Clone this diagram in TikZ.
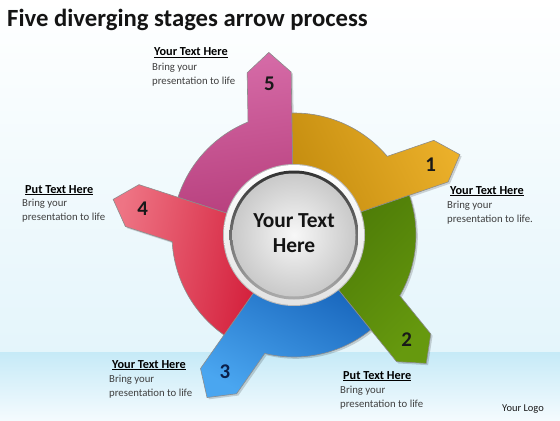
\documentclass[tikz,border=0pt]{standalone}
\usepackage{fontspec}
\setmainfont{Carlito}
\definecolor{pinkA}{HTML}{D66CA8}
\definecolor{pinkB}{HTML}{B8407E}
\definecolor{orA}{HTML}{EBB02A}
\definecolor{orB}{HTML}{C68E10}
\definecolor{grA}{HTML}{66990E}
\definecolor{grB}{HTML}{4E7C08}
\definecolor{blA}{HTML}{4AA6F0}
\definecolor{blB}{HTML}{1A68BE}
\definecolor{rdA}{HTML}{EE7484}
\definecolor{rdB}{HTML}{D4203C}
\definecolor{bgA}{HTML}{E4F5FB}
\definecolor{bandA}{HTML}{C6EAF7}
\definecolor{bandB}{HTML}{F4FBFE}
\definecolor{navy}{HTML}{0B1F4A}
\begin{document}
\begin{tikzpicture}[x=1bp,y=1bp,
  segshape/.style 2 args={insert path={
    (#1:60) -- (#1:163)
    -- ({183*cos(#1)-22*sin(#1)},{183*sin(#1)+22*cos(#1)})
    -- ({163*cos(#1)-44*sin(#1)},{163*sin(#1)+44*cos(#1)})
    -- (#1+21.14:122) arc[start angle=#1+21.14, end angle=#2, radius=122]
    -- (#2:60) arc[start angle=#2, end angle=#1, radius=60] -- cycle}},
  seg/.style={draw=black!45, line width=0.6bp},
  head/.style={anchor=base west, inner sep=0pt, font=\fontsize{12.3}{14}\selectfont\bfseries},
  body/.style={anchor=base west, inner sep=0pt, font=\fontsize{10.8}{13}\selectfont, text=black!75},
  num/.style={inner sep=0pt, font=\fontsize{21}{21}\selectfont\bfseries, text=black!90}]
\useasboundingbox (0,0) rectangle (560,420);
% background
\fill[top color=white, bottom color=bgA] (0,68) rectangle (560,420);
\fill[top color=bandA, bottom color=bandB] (0,0) rectangle (560,68);
% title
\node[anchor=base west, inner sep=0pt, font=\fontsize{24.8}{26}\selectfont\bfseries, text=black!92] (title) at (7,393) {Five diverging stages arrow process};
% shadows
\begin{scope}[shift={(295.8,183.2)}]
  \foreach \b/\e in {91/162, 19/91, -51/19, -125/-51, 162/235}
    \fill[black, opacity=0.16, segshape={\b}{\e}];
\end{scope}
% segments
\begin{scope}[shift={(294,185)}]
  \foreach \b/\e/\ca/\cb/\ang in {91/162/pinkA/pinkB/8, 19/91/orA/orB/-64, -51/19/grA/grB/-134, -125/-51/blA/blB/-208, 162/235/rdA/rdB/79}
    \path[seg, top color=\ca, bottom color=\cb, shading angle=\ang, segshape={\b}{\e}];
  % centre circle
  \fill[gray!55] (0,0) circle (71);
  \shade[top color=white, bottom color=gray!22] (0,0) circle (70);
  \shade[top color=black!80, bottom color=gray!65] (0,0) circle (64.5);
  \shade[inner color=gray!6, outer color=gray!42] (0,0) circle (61.5);
  \node[align=center, inner sep=0pt, font=\fontsize{21.5}{25}\selectfont\bfseries, text=black!92] (ctext) at (0,1.5) {Your Text\\Here};
  % numbers
  \node[num] (n5) at ({152*cos(91)-22*sin(91)},{152*sin(91)+22*cos(91)}) {5};
  \node[num] (n1) at ({152*cos(19)-22*sin(19)},{152*sin(19)+22*cos(19)}) {1};
  \node[num] (n2) at ({152*cos(-51)-22*sin(-51)},{152*sin(-51)+22*cos(-51)}) {2};
  \node[num, text=navy] (n3) at ({152*cos(-125)-22*sin(-125)},{152*sin(-125)+22*cos(-125)}) {3};
  \node[num] (n4) at ({152*cos(162)-22*sin(162)},{152*sin(162)+22*cos(162)}) {4};
\end{scope}
% labels
\node[head] (h5) at (154,364.5) {\underline{Your Text Here}};
\node[body] (b5a) at (152,350) {Bring your};
\node[body] (b5b) at (152,336) {presentation to life};
\node[head] (h1) at (450,226) {\underline{Your Text Here}};
\node[body] (b1a) at (447,211.5) {Bring your};
\node[body] (b1b) at (447,197.5) {presentation to life.};
\node[head] (h4) at (25,227) {\underline{Put Text Here}};
\node[body] (b4a) at (22,213.5) {Bring your};
\node[body] (b4b) at (22,199.5) {presentation to life};
\node[head] (h3) at (112,52) {\underline{Your Text Here}};
\node[body] (b3a) at (109,37.5) {Bring your};
\node[body] (b3b) at (109,23.5) {presentation to life};
\node[head] (h2) at (343,41) {\underline{Put Text Here}};
\node[body] (b2a) at (340,26.5) {Bring your};
\node[body] (b2b) at (340,12.5) {presentation to life};
\node[anchor=base west, inner sep=0pt, font=\fontsize{10.5}{12}\selectfont, text=black!90] (logo) at (502,8.5) {Your Logo};
\end{tikzpicture}
\end{document}
